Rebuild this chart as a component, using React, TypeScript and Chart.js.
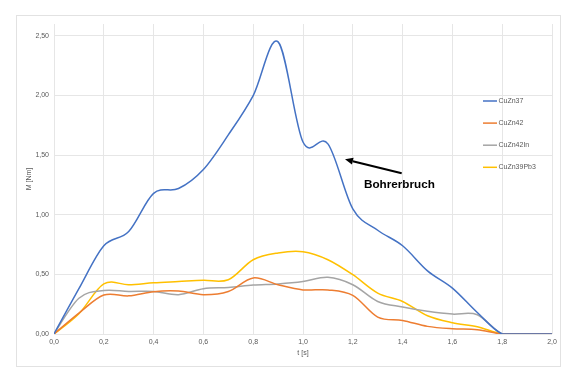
import React, { useEffect, useRef } from "react";
import { Chart, registerables } from "chart.js";

Chart.register(...registerables);

const times = [0, 0.1, 0.2, 0.3, 0.4, 0.5, 0.6, 0.7, 0.8, 0.9, 1.0, 1.1, 1.2, 1.3, 1.4, 1.5, 1.6, 1.7, 1.8, 1.9, 2.0];
const cuZn37 = [0, 0.38, 0.74, 0.86, 1.18, 1.22, 1.38, 1.67, 2.0, 2.45, 1.61, 1.595, 1.05, 0.87, 0.74, 0.53, 0.385, 0.18, 0, 0, 0];
const cuZn42 = [0, 0.175, 0.327, 0.32, 0.355, 0.36, 0.33, 0.357, 0.47, 0.413, 0.37, 0.37, 0.324, 0.142, 0.114, 0.064, 0.044, 0.036, 0, 0, 0];
const cuZn42In = [0, 0.3, 0.365, 0.357, 0.357, 0.33, 0.38, 0.39, 0.41, 0.42, 0.44, 0.475, 0.413, 0.273, 0.226, 0.19, 0.167, 0.162, 0, 0, 0];
const cuZn39Pb3 = [0, 0.17, 0.42, 0.413, 0.43, 0.44, 0.45, 0.455, 0.623, 0.68, 0.69, 0.623, 0.497, 0.343, 0.273, 0.153, 0.095, 0.061, 0, 0, 0];

const seriesNames = ["CuZn37", "CuZn42", "CuZn42In", "CuZn39Pb3"];
const seriesColors = ["#4472C4", "#ED7D31", "#A5A5A5", "#FFC000"];
const seriesValues = [cuZn37, cuZn42, cuZn42In, cuZn39Pb3];

const xTitle = "t [s]";
const yTitle = "M [Nm]";
const annotationText = "Bohrerbruch";

const FONT = "'Liberation Sans', Arial, sans-serif";
const TEXT_COLOR = "#595959";

// Uniform Catmull-Rom smoothing (like a spreadsheet "smoothed line")
const smoothPlugin = {
  id: "uniformSmooth",
  beforeDatasetsDraw(chart: any) {
    const area = chart.chartArea;
    chart.data.datasets.forEach((_: any, di: number) => {
      const meta = chart.getDatasetMeta(di);
      const pts = meta.data;
      const n = pts.length;
      const clampY = (y: number) => Math.min(Math.max(y, area.top), area.bottom);
      for (let i = 0; i < n; i++) {
        const p = pts[i];
        const prev = pts[Math.max(i - 1, 0)];
        const next = pts[Math.min(i + 1, n - 1)];
        const dx = (next.x - prev.x) / 6;
        const dy = (next.y - prev.y) / 6;
        p.cp1x = p.x - dx;
        p.cp1y = clampY(p.y - dy);
        p.cp2x = p.x + dx;
        p.cp2y = clampY(p.y + dy);
      }
      meta.dataset._pointsUpdated = true;
    });
  },
};

const decorPlugin = {
  id: "decor",
  beforeDraw(chart: any) {
    const ctx = chart.ctx;
    ctx.save();
    ctx.fillStyle = "#ffffff";
    ctx.fillRect(0, 0, chart.width, chart.height);
    ctx.strokeStyle = "#e2e2e2";
    ctx.lineWidth = 1;
    ctx.strokeRect(16.5, 15.5, 544, 351);
    ctx.restore();
  },
  afterDraw(chart: any) {
    const ctx = chart.ctx;
    const area = chart.chartArea;
    ctx.save();
    ctx.fillStyle = TEXT_COLOR;
    ctx.font = `7px ${FONT}`;
    ctx.textAlign = "center";
    ctx.textBaseline = "middle";
    ctx.fillText(xTitle, (area.left + area.right) / 2, 353);
    ctx.save();
    ctx.translate(29, (area.top + area.bottom) / 2);
    ctx.rotate(-Math.PI / 2);
    ctx.fillText(yTitle, 0, 0);
    ctx.restore();

    ctx.textAlign = "left";
    for (let i = 0; i < seriesNames.length; i++) {
      const y = 101 + i * 22.1;
      ctx.strokeStyle = seriesColors[i];
      ctx.lineWidth = 1.5;
      ctx.beginPath();
      ctx.moveTo(483, y);
      ctx.lineTo(497, y);
      ctx.stroke();
      ctx.fillStyle = TEXT_COLOR;
      ctx.fillText(seriesNames[i], 498.5, y);
    }

    const x0 = 401.7, y0 = 173.3, x1 = 345, y1 = 159.3;
    const ang = Math.atan2(y1 - y0, x1 - x0);
    const headLen = 8;
    const hx = x1 - headLen * Math.cos(ang);
    const hy = y1 - headLen * Math.sin(ang);
    ctx.strokeStyle = "#000000";
    ctx.lineWidth = 2.2;
    ctx.beginPath();
    ctx.moveTo(x0, y0);
    ctx.lineTo(hx, hy);
    ctx.stroke();
    ctx.fillStyle = "#000000";
    ctx.beginPath();
    ctx.moveTo(x1, y1);
    ctx.lineTo(hx + 3.5 * Math.sin(ang), hy - 3.5 * Math.cos(ang));
    ctx.lineTo(hx - 3.5 * Math.sin(ang), hy + 3.5 * Math.cos(ang));
    ctx.closePath();
    ctx.fill();

    ctx.font = `bold 11.7px ${FONT}`;
    ctx.fillStyle = "#000000";
    ctx.textAlign = "left";
    ctx.fillText(annotationText, 364, 185);
    ctx.restore();
  },
};

const fmt = (v: number, d: number) => Number(v).toFixed(d).replace(".", ",");

export default function App() {
  const ref = useRef<HTMLCanvasElement | null>(null);
  useEffect(() => {
    if (!ref.current) return;
    const datasets = seriesNames.map((name, i) => ({
      label: name,
      data: times.map((t, j) => ({ x: t, y: seriesValues[i][j] })),
      borderColor: seriesColors[i],
      backgroundColor: seriesColors[i],
      borderWidth: 1.5,
      pointRadius: 0,
      tension: 0.35,
      fill: false,
    }));
    const chart = new Chart(ref.current, {
      type: "line",
      data: { datasets },
      options: {
        animation: false,
        responsive: false,
        maintainAspectRatio: false,
        layout: { padding: { left: 0, top: 24, right: 27, bottom: 0 } },
        plugins: { legend: { display: false }, tooltip: { enabled: false } },
        scales: {
          x: {
            type: "linear",
            min: 0,
            max: 2,
            afterFit: (s: any) => { s.height = 50; },
            grid: { color: "#e6e6e6", lineWidth: 1, drawTicks: false },
            border: { display: false },
            ticks: {
              stepSize: 0.2,
              padding: 4,
              color: TEXT_COLOR,
              font: { size: 7, family: FONT },
              maxRotation: 0,
              callback: (v: any) => fmt(v, 1),
            },
          },
          y: {
            type: "linear",
            min: 0,
            max: 2.6,
            afterFit: (s: any) => { s.width = 54; },
            grid: { color: "#e6e6e6", lineWidth: 1, drawTicks: false },
            border: { display: false },
            ticks: {
              stepSize: 0.5,
              includeBounds: false,
              padding: 5,
              color: TEXT_COLOR,
              font: { size: 7, family: FONT },
              callback: (v: any) => fmt(v, 2),
            },
          },
        },
      },
      plugins: [smoothPlugin, decorPlugin],
    } as any);
    return () => chart.destroy();
  }, []);
  return (
    <div style={{ position: "absolute", left: 0, top: 0, width: 579, height: 384 }}>
      <canvas ref={ref} width={579} height={384} style={{ display: "block" }} />
    </div>
  );
}
